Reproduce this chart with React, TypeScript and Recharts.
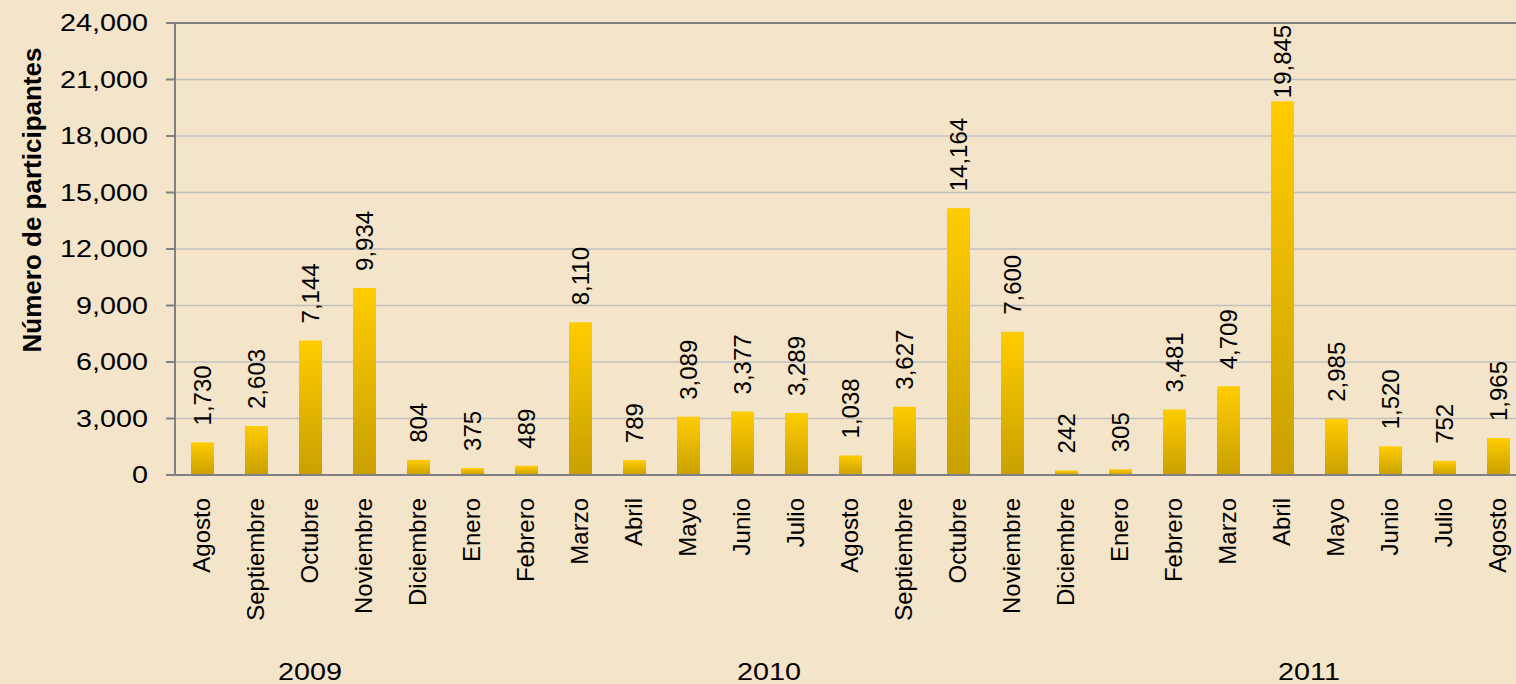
import React from 'react';
import {
  BarChart,
  Bar,
  XAxis,
  YAxis,
  CartesianGrid,
  ReferenceLine,
  LabelList,
} from 'recharts';

const months = [
  'Agosto', 'Septiembre', 'Octubre', 'Noviembre', 'Diciembre',
  'Enero', 'Febrero', 'Marzo', 'Abril', 'Mayo', 'Junio', 'Julio',
  'Agosto', 'Septiembre', 'Octubre', 'Noviembre', 'Diciembre',
  'Enero', 'Febrero', 'Marzo', 'Abril', 'Mayo', 'Junio', 'Julio', 'Agosto',
];

const participants = [
  1730, 2603, 7144, 9934, 804,
  375, 489, 8110, 789, 3089, 3377, 3289, 1038, 3627, 14164, 7600, 242,
  305, 3481, 4709, 19845, 2985, 1520, 752, 1965,
];

const years = ['2009', '2010', '2011'];
const monthsPerYear = [5, 12, 8];

const yTicks = [0, 3000, 6000, 9000, 12000, 15000, 18000, 21000, 24000];

// pos = centre of each month's slot on a 0..n scale (used by the year axis)
const data = months.map((m, i) => ({ key: String(i), month: m, value: participants[i], pos: i + 0.5 }));

// year label positions: middle of each group on the same 0..n scale
const yearTicks: number[] = [];
{
  let start = 0;
  monthsPerYear.forEach((n) => {
    yearTicks.push(start + n / 2);
    start += n;
  });
}

const FONT = '"Liberation Sans", Arial, sans-serif';
const fmt = (v: number) => v.toLocaleString('en-US');

const YTick = (props: any) => {
  const { x, y, payload } = props;
  return (
    <g transform={`translate(${x},${y})`}>
      <text transform="scale(1.25,1)" textAnchor="end" dy="0.35em" fontSize={23} fill="#000" fontFamily={FONT}>
        {fmt(payload.value)}
      </text>
    </g>
  );
};

const MonthTick = (props: any) => {
  const { x, y, payload } = props;
  const label = months[Number(payload.value)];
  return (
    <g transform={`translate(${x},${y}) rotate(-90)`}>
      <text textAnchor="end" dy="0.35em" fontSize={24} fill="#000" fontFamily={FONT}>
        {label}
      </text>
    </g>
  );
};

const YearTick = (props: any) => {
  const { x, y, index } = props;
  return (
    <g transform={`translate(${x},${y + 27})`}>
      <text transform="scale(1.25,1)" textAnchor="middle" dy="0.35em" fontSize={23} fill="#000" fontFamily={FONT}>
        {years[index]}
      </text>
    </g>
  );
};

const ValueLabel = (props: any) => {
  const { x, y, width, value } = props;
  const text = fmt(Number(value));
  const len = text.replace(',', '').length * 13.3 + (text.includes(',') ? 6.7 : 0);
  let start = y - 17;
  if (start - len < 25) start = 25 + len;
  return (
    <g transform={`translate(${x + width / 2},${start}) rotate(-90)`}>
      <text textAnchor="start" dy="0.35em" fontSize={24} fill="#000" fontFamily={FONT}>
        {text}
      </text>
    </g>
  );
};

const AxisTitle = (props: any) => {
  const { viewBox } = props;
  const cx = viewBox.x + 32;
  const cy = viewBox.y + 177;
  return (
    <text
      transform={`translate(${cx},${cy}) rotate(-90)`}
      textAnchor="middle"
      dy="0.35em"
      fontSize={26}
      fontWeight="bold"
      fill="#000"
      fontFamily={FONT}
    >
      Número de participantes
    </text>
  );
};

export default function App() {
  return (
    <div
      style={{
        position: 'absolute',
        left: 0,
        top: 0,
        width: 1516,
        height: 684,
        overflow: 'hidden',
        background: '#f4e4c9',
      }}
    >
      <BarChart
        width={1540}
        height={684}
        data={data}
        margin={{ top: 23, right: 15, left: 0, bottom: 0 }}
      >
        <defs>
          <linearGradient id="barGold" x1="0" y1="0" x2="0" y2="1">
            <stop offset="0%" stopColor="#ffcc00" />
            <stop offset="100%" stopColor="#c9a000" />
          </linearGradient>
        </defs>
        <CartesianGrid vertical={false} stroke="#c0c0c0" strokeWidth={1.5} />
        <XAxis
          dataKey="key"
          tick={<MonthTick />}
          tickLine={false}
          tickSize={0}
          tickMargin={23}
          axisLine={{ stroke: '#808080', strokeWidth: 2 }}
          height={170}
          interval={0}
        />
        <XAxis
          xAxisId="year"
          dataKey="pos"
          type="number"
          domain={[0, months.length]}
          ticks={yearTicks}
          allowDataOverflow
          tick={<YearTick />}
          tickLine={false}
          tickSize={0}
          tickMargin={0}
          axisLine={false}
          height={39}
          interval={0}
        />
        <YAxis
          width={175}
          domain={[0, 24000]}
          ticks={yTicks}
          interval={0}
          tick={<YTick />}
          tickSize={9}
          tickMargin={18}
          tickLine={{ stroke: '#808080', strokeWidth: 2 }}
          axisLine={{ stroke: '#808080', strokeWidth: 2 }}
          label={<AxisTitle />}
        />
        <ReferenceLine y={24000} stroke="#808080" strokeWidth={2} />
        <Bar dataKey="value" fill="url(#barGold)" barSize={23} isAnimationActive={false}>
          <LabelList dataKey="value" content={<ValueLabel />} />
        </Bar>
      </BarChart>
    </div>
  );
}
